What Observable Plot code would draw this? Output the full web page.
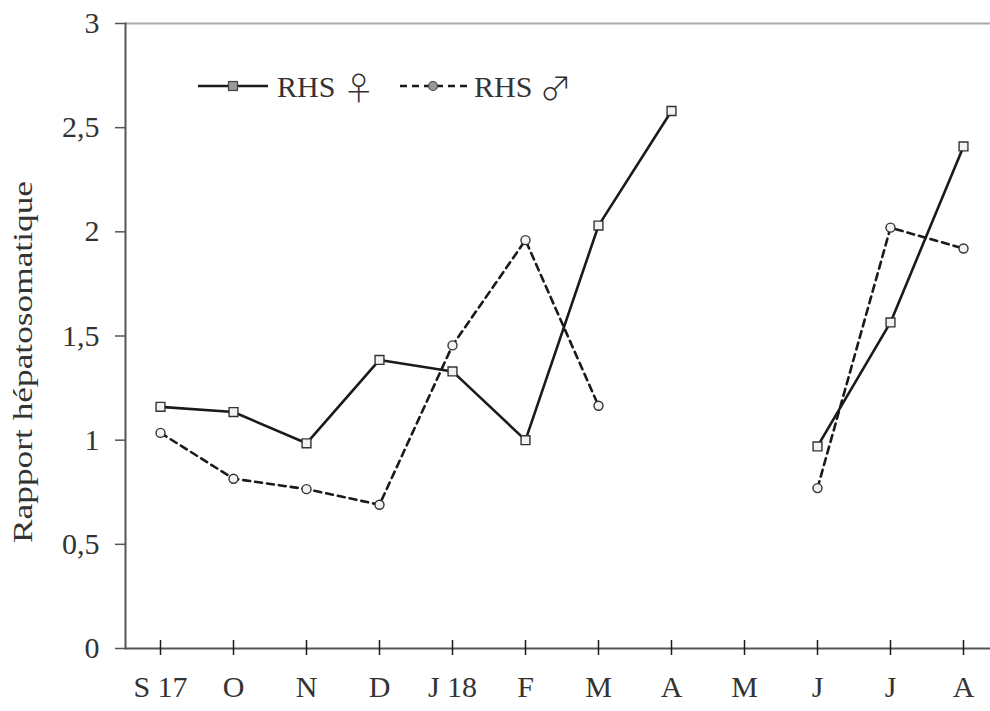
<!DOCTYPE html>
<html>
<head>
<meta charset="utf-8">
<script src="https://cdn.jsdelivr.net/npm/d3@7"></script>
<script src="https://cdn.jsdelivr.net/npm/@observablehq/plot@0.6"></script>
<style>
  html, body { margin: 0; padding: 0; background: #fff; }
  #wrap { position: relative; width: 990px; height: 711px; }
  #legend { position: absolute; left: 0; top: 0; pointer-events: none; }
</style>
</head>
<body>
<div id="wrap"></div>
<script>
// ---- Data ----
const monthLabels = ["S 17", "O", "N", "D", "J 18", "F", "M", "A", "M", "J", "J", "A"];
const rhsFemale = [1.16, 1.135, 0.985, 1.385, 1.33, 1.0, 2.03, 2.58, null, 0.97, 1.565, 2.41];
const rhsMale   = [1.035, 0.815, 0.765, 0.69, 1.455, 1.96, 1.165, null, null, 0.77, 2.02, 1.92];
const yTicks = [0, 0.5, 1, 1.5, 2, 2.5, 3];
const seriesNames = ["RHS \u2640", "RHS \u2642"];
const yLabel = "Rapport h\u00e9patosomatique";

const idx = d3.range(monthLabels.length);
const female = idx.map(i => ({i, v: rhsFemale[i]}));
const male = idx.map(i => ({i, v: rhsMale[i]}));
const fmt = d => String(d).replace(".", ",");

const ink = "#1a1a1a";
const textCol = "#333";
const axisCol = "#555";
const font = "'Liberation Serif', 'Times New Roman', serif";

const chart = Plot.plot({
  width: 990,
  height: 711,
  marginLeft: 125,
  marginRight: 0,
  marginTop: 23,
  marginBottom: 63,
  style: {fontFamily: font, fontSize: "30px", color: textCol, background: "#fff"},
  x: {type: "point", domain: idx, range: [160, 963], padding: 0},
  y: {domain: [0, 3]},
  marks: [
    Plot.ruleY([3], {stroke: "#aaa", strokeWidth: 2}),
    Plot.ruleY([0], {stroke: axisCol, strokeWidth: 2}),
    Plot.frame({anchor: "left", stroke: axisCol, strokeWidth: 2}),
    Plot.axisY({ticks: yTicks, tickFormat: fmt, tickSize: 10, tickPadding: 16, label: null, stroke: axisCol, strokeWidth: 1.5, fill: textCol}),
    Plot.axisX({ticks: idx, tickFormat: i => monthLabels[i], tickSize: 15, dy: -8, tickPadding: 20, label: null, stroke: ink, strokeWidth: 1.5, fill: textCol}),
    Plot.line(male, {x: "i", y: "v", stroke: ink, strokeWidth: 2.6, strokeDasharray: "7,5"}),
    Plot.line(female, {x: "i", y: "v", stroke: ink, strokeWidth: 2.6}),
    Plot.dot(male, {x: "i", y: "v", symbol: "circle", r: 4.5, fill: "#f2f2f2", stroke: "#333", strokeWidth: 1.4}),
    Plot.dot(female, {x: "i", y: "v", symbol: "square", r: 5, fill: "#f2f2f2", stroke: "#333", strokeWidth: 1.4}),
    Plot.text([yLabel], {frameAnchor: "left", rotate: -90, dx: -102, dy: 26, fontSize: 27, fontWeight: "normal", textAnchor: "middle", fill: textCol})
  ]
});

// stretch the rotated axis label to the reference length
d3.select(chart).selectAll("text").filter(function() { return this.textContent === yLabel; })
  .attr("textLength", 362).attr("lengthAdjust", "spacingAndGlyphs");

document.getElementById("wrap").appendChild(chart);

// ---- Legend overlay (inside plot area, top-left) ----
const lg = d3.select("#wrap").append("svg").attr("id", "legend")
  .attr("width", 990).attr("height", 130);
const items = [
  {name: seriesNames[0], x0: 198, x1: 268, mx: 233, tx: 277, dash: null, sym: "square"},
  {name: seriesNames[1], x0: 400, x1: 470, mx: 433, tx: 474, dash: "7,5", sym: "circle"}
];
const ly = 86;
items.forEach(it => {
  lg.append("line").attr("x1", it.x0).attr("x2", it.x1).attr("y1", ly).attr("y2", ly)
    .attr("stroke", ink).attr("stroke-width", 2.6).attr("stroke-dasharray", it.dash);
  if (it.sym === "square") {
    lg.append("rect").attr("x", it.mx - 4.5).attr("y", ly - 4.5).attr("width", 9).attr("height", 9)
      .attr("fill", "#999").attr("stroke", "#444").attr("stroke-width", 1.2);
  } else {
    lg.append("circle").attr("cx", it.mx).attr("cy", ly).attr("r", 4.5)
      .attr("fill", "#999").attr("stroke", "#444").attr("stroke-width", 1.2);
  }
  const [word, sym] = it.name.split(" ");
  const t = lg.append("text").attr("x", it.tx).attr("y", ly + 11)
    .attr("font-family", font).attr("font-size", 30).attr("fill", textCol);
  t.append("tspan").text(word + " ");
  t.append("tspan").text(sym).attr("font-family", "'Noto Sans CJK JP', 'DejaVu Sans', sans-serif")
    .attr("font-size", 32).attr("font-weight", 300).attr("dy", 3);
});
</script>
</body>
</html>
